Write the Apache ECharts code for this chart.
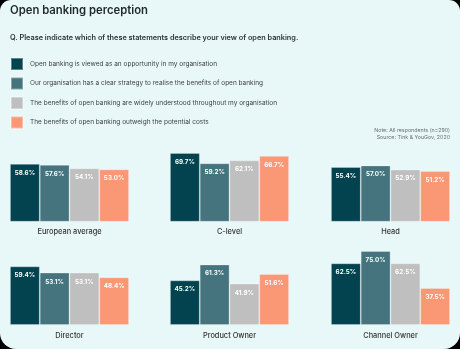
<!DOCTYPE html>
<html>
<head>
<meta charset="utf-8">
<script src="https://cdn.jsdelivr.net/npm/echarts@6/dist/echarts.min.js"></script>
<style>
html,body{margin:0;padding:0;background:#000;}
#c{width:460px;height:349px;background:#e8f8f8;border-radius:11px 11px 16px 16px;overflow:hidden;}
</style>
</head>
<body>
<div id="c"></div>
<script>
const groups = ['European average','C-level','Head','Director','Product Owner','Channel Owner'];
const seriesNames = [
  'Open banking is viewed as an opportunity in my organisation',
  'Our organisation has a clear strategy to realise the benefits of open banking',
  'The benefits of open banking are widely understood throughout my organisation',
  'The benefits of open banking outweigh the potential costs'
];
const opportunity = [58.6, 69.7, 55.4, 59.4, 45.2, 62.5];
const strategy    = [57.6, 59.2, 57.0, 53.1, 61.3, 75.0];
const understood  = [54.1, 62.1, 52.9, 53.1, 41.9, 62.5];
const outweigh    = [53.0, 66.7, 51.2, 48.4, 51.6, 37.5];
const colors = ['#03434f','#45747f','#bfbfbf','#fa9775'];

const valueSets = [opportunity, strategy, understood, outweigh];
const lefts = [10, 170, 331];
const tops = [123.1, 226.4];
const grids = [], xAxes = [], yAxes = [], series = [];
groups.forEach((g, i) => {
  const r = Math.floor(i / 3), c = i % 3;
  grids.push({left: lefts[c], top: tops[r], width: 119, height: 98.6});
  xAxes.push({type:'category', gridIndex:i, data:[g],
    axisLine:{show:false}, axisTick:{show:false},
    axisLabel:{color:'#333', fontSize:7.4, margin:7, fontFamily:'Inter', fontWeight:500}});
  yAxes.push({type:'value', gridIndex:i, min:0, max:100, show:false});
  valueSets.forEach((vals, k) => {
    series.push({
      type:'bar', name: seriesNames[k], xAxisIndex:i, yAxisIndex:i,
      data:[vals[i]], barWidth:29.75, barGap:'0%',
      itemStyle:{color:colors[k], borderColor:'rgba(255,255,255,0.35)', borderWidth:0.8},
      label:{show:true, position:'insideTop', distance:6, color:'#fff', fontSize:6.3, fontWeight:'bold',
        fontFamily:'Inter', formatter: p => p.value.toFixed(1) + '%'},
      silent:true, animation:false
    });
  });
});

const chart = echarts.init(document.getElementById('c'), null, {renderer:'canvas'});
chart.setOption({
  animation:false,
  color: colors,
  title:[
    {text:'Open banking perception', left:10, top:5, padding:0,
      textStyle:{fontSize:11.3, fontWeight:600, color:'#1d2a2d', fontFamily:'Inter'}},
    {text:'Q. Please indicate which of these statements describe your view of open banking.', left:10, top:34.5, padding:0,
      textStyle:{fontSize:7.3, fontWeight:600, color:'#2a3336', fontFamily:'Inter'}},
    {text:'Note: All respondents (n=290)', right:10, top:128, padding:0,
      textStyle:{fontSize:5.3, fontWeight:'normal', color:'#6a6f70', fontFamily:'Inter'}},
    {text:'Source: Tink & YouGov, 2020', right:10, top:135, padding:0,
      textStyle:{fontSize:5.3, fontWeight:'normal', color:'#6a6f70', fontFamily:'Inter'}}
  ],
  legend:{
    data: seriesNames, orient:'vertical', left:10, top:57, padding:0,
    itemWidth:12, itemHeight:12, itemGap:5.5, icon:'rect', selectedMode:false,
    textStyle:{fontSize:6.5, color:'#3a3f41', fontFamily:'Inter', padding:[0,0,0,2]}
  },
  grid: grids, xAxis: xAxes, yAxis: yAxes, series: series
});
</script>
</body>
</html>
